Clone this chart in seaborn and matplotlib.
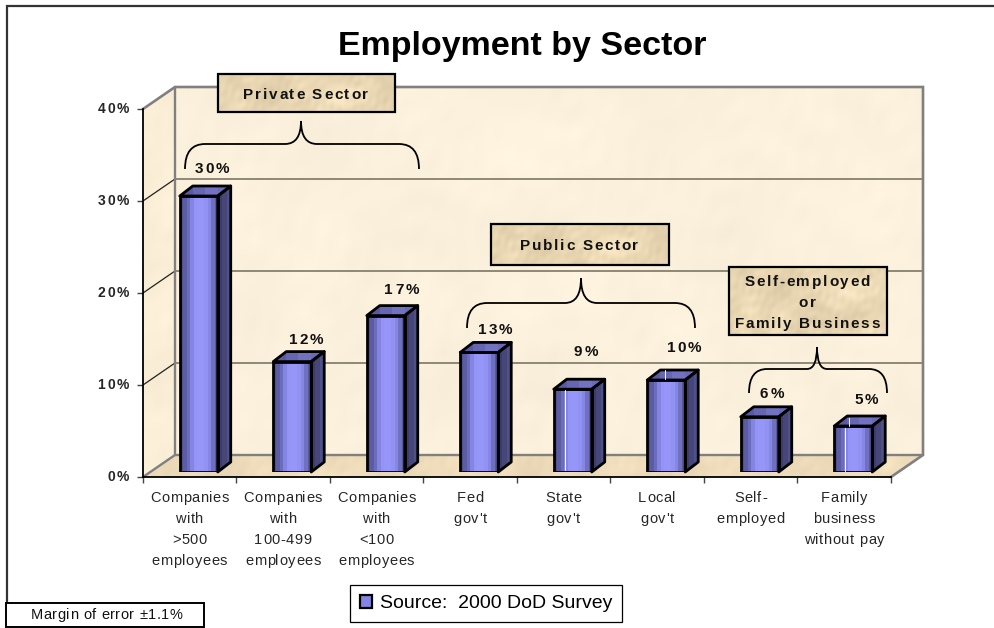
import numpy as np
import pandas as pd
import matplotlib
matplotlib.use("Agg")
import matplotlib.pyplot as plt
import matplotlib.transforms as mtransforms
from matplotlib.patches import Patch, Polygon, PathPatch, Rectangle
from matplotlib.path import Path
from matplotlib.text import Text
import seaborn as sns

# Survey results
sectors = ["Companies\nwith\n>500\nemployees", "Companies\nwith\n100-499\nemployees",
           "Companies\nwith\n<100\nemployees", "Fed\ngov't", "State\ngov't", "Local\ngov't",
           "Self-\nemployed", "Family\nbusiness\nwithout pay"]
shares = [30, 12, 17, 13, 9, 10, 6, 5]
y_ticks = [0, 10, 20, 30, 40]
groups = ["Private Sector", "Public Sector", "Self-employed\nor\nFamily Business"]

W, H = 995, 628
sns.set_theme(style="white")
plt.rcParams["font.family"] = ["Liberation Sans", "DejaVu Sans"]
fig = plt.figure(figsize=(W / 100, H / 100), dpi=100, facecolor="white")


class TrackedText(Text):
    """Text with extra spacing between letters and a fixed line height, in pixels."""
    tracking = 0.0
    line_px = 16.0

    def _lines(self, renderer):
        prop = self.get_fontproperties()
        bar = renderer.get_text_width_height_descent("|", prop, False)[0]
        out = []
        for line in self.get_text().split("\n"):
            xs = [renderer.get_text_width_height_descent(line[:i] + "|", prop, False)[0] - bar
                  + i * self.tracking for i in range(len(line) + 1)]
            out.append((line, xs))
        return out

    def _anchor(self, n, xs_end):
        x, y = self.get_transform().transform(self.get_unitless_position())
        ha = self.get_ha()
        left = x - (xs_end / 2 if ha == "center" else xs_end if ha == "right" else 0)
        top = y if self.get_va() == "top" else y + n * self.line_px / 2
        return x, left, top

    def get_window_extent(self, renderer=None, dpi=None):
        renderer = renderer or self.get_figure().canvas.get_renderer()
        lines = self._lines(renderer)
        widest = max(xs[-1] for _, xs in lines)
        _, left, top = self._anchor(len(lines), widest)
        return mtransforms.Bbox.from_extents(left, top - len(lines) * self.line_px, left + widest, top)

    def draw(self, renderer):
        if not self.get_visible() or not self.get_text():
            return
        gc = renderer.new_gc()
        gc.set_foreground(self.get_color())
        gc.set_antialiased(True)
        prop = self.get_fontproperties()
        lines = self._lines(renderer)
        for k, (line, xs) in enumerate(lines):
            _, left, top = self._anchor(len(lines), xs[-1])
            base = top - (k + 0.78) * self.line_px
            for i, ch in enumerate(line):
                if ch != " ":
                    renderer.draw_text(gc, left + xs[i], H - base, ch, prop, 0, False)
        gc.restore()
        self.stale = False


def track(label, tracking, line_px):
    label.__class__ = TrackedText
    label.tracking = tracking
    label.line_px = line_px


def mottle(w, h, freq):
    """Soft parchment-like variation in the range -1..1."""
    yy, xx = np.mgrid[0:h, 0:w]
    total = np.zeros((h, w))
    for k in range(1, 19):
        angle = k * 2.399
        f = freq * (0.45 + (k * 0.37) % 1.6)
        total += np.sin(f * (xx * np.cos(angle) + yy * np.sin(angle)) + k * 1.7)
    return total / np.abs(total).max()


def parchment(axis, extent, base, amp, freq, clip=None, zorder=1):
    l, r, t, b = extent
    tex = mottle(int(r - l), int(b - t), freq) + 0.7 * mottle(int(r - l), int(b - t), freq * 4.3)
    img = np.clip(np.array(base)[None, None, :] + amp * tex[:, :, None], 0, 255) / 255
    im = axis.imshow(img, extent=(l, r, b, t), aspect="auto", interpolation="bilinear", zorder=zorder)
    if clip is not None:
        im.set_clip_path(clip)
    return im


# Pixel-space backdrop: the walls and floor of the 3-D box
X0, X1, Y0, Y40 = 143, 891, 477, 109
DX, DY = 32, 22
per_pct = (Y0 - Y40) / 40

bg = fig.add_axes([0, 0, 1, 1], zorder=0)
bg.set_axis_off()
side = Polygon([(X0, Y0), (X0 + DX, Y0 - DY), (X0 + DX, Y40 - DY), (X0, Y40)], transform=bg.transData, fc="none", ec="none")
back = Polygon([(X0 + DX, Y0 - DY), (X1 + DX, Y0 - DY), (X1 + DX, Y40 - DY), (X0 + DX, Y40 - DY)], transform=bg.transData, fc="none", ec="none")
floor = Polygon([(X0, Y0), (X1, Y0), (X1 + DX, Y0 - DY), (X0 + DX, Y0 - DY)], transform=bg.transData, fc="none", ec="none")
for p in (side, back, floor):
    bg.add_patch(p)
parchment(bg, (X0, X0 + DX, Y40 - DY, Y0), (251, 239, 215), 3, 0.05, side)
parchment(bg, (X0 + DX, X1 + DX, Y40 - DY, Y0 - DY), (252, 241, 221), 3.5, 0.035, back)
parchment(bg, (X0, X1 + DX, Y0 - DY, Y0), (238, 220, 186), 7, 0.07, floor)
bg.set_xlim(0, W)
bg.set_ylim(H, 0)

grey = "#808080"
for v in y_ticks[1:-1]:
    y = Y0 - v * per_pct
    bg.plot([X0, X0 + DX], [y, y - DY], color="#222222", lw=0.9, zorder=3)
    bg.plot([X0 + DX, X1 + DX], [y - DY, y - DY], color="#86806f", lw=1.3, zorder=3)
bg.plot([X0, X0 + DX, X1 + DX, X1 + DX, X1], [Y40, Y40 - DY, Y40 - DY, Y0 - DY, Y0], color=grey, lw=1.9, zorder=3, solid_joinstyle="miter")
bg.plot([X0, X0 + DX, X1 + DX], [Y0, Y0 - DY, Y0 - DY], color=grey, lw=1.7, zorder=3)
bg.plot([X0 + DX, X0 + DX], [Y40 - DY, Y0 - DY], color=grey, lw=1.7, zorder=3)
# Outer frame: open on the right and at the bottom
bg.plot([7, 7, W], [603, 6, 6], color="#333333", lw=1.6, zorder=3, solid_joinstyle="miter")

# Front plane: value axis and category axis
ax = fig.add_axes([X0 / W, 1 - Y0 / H, (X1 - X0) / W, (Y0 - Y40) / H], zorder=1)
ax.patch.set_visible(False)
ax.set_xlim(-0.5, 7.5)
ax.set_ylim(0, 40)
sns.despine(ax=ax)
for s in ("left", "bottom"):
    ax.spines[s].set_color("black")
    ax.spines[s].set_linewidth(1.3)
ax.set_yticks(y_ticks, [f"{v}%" for v in y_ticks])
ax.set_xticks(np.arange(9) - 0.5, [""] * 9)
ax.set_xticks(np.arange(8), sectors, minor=True)
ax.tick_params(axis="y", left=True, length=4.3, width=1, color="#444444", pad=4.2, labelsize=10)
ax.tick_params(axis="x", which="major", bottom=True, length=4, width=1, color="#444444")
ax.tick_params(axis="x", which="minor", bottom=False, length=0, pad=6.5, labelsize=10.5)
for t in ax.yaxis.get_major_ticks():
    t.label1.set_fontweight("bold")
    track(t.label1, 2.0, 14)
for t in ax.xaxis.get_minor_ticks():
    track(t.label1, 0.6, 21)

# Bars sit a little behind the front plane
ax_bars = fig.add_axes([(X0 + 9) / W, 1 - (Y0 - 5) / H, (X1 - X0) / W, (Y0 - Y40) / H], zorder=2)
ax_bars.patch.set_visible(False)
df = pd.DataFrame({"sector": sectors, "share": shares})
sns.barplot(data=df, x="sector", y="share", color="#9494F5", width=0.406, saturation=1,
            edgecolor="black", linewidth=2.0, ax=ax_bars)
ax_bars.set_xlim(-0.5, 7.5)
ax_bars.set_ylim(0, 40)
ax_bars.set_axis_off()

front_bands = ["#50508f", "#5c5ca4", "#6c6cbc", "#8484e2", "#9494f6", "#9696f8", "#9696f8", "#9292f2", "#8686e4", "#7070c0", "#58589c"]
side_bands = ["#3c3c6c", "#464678", "#50508a"]
top_bands = ["#5a5aa4", "#6666b2", "#7272c0", "#6a6ab6"]
to_rgb = lambda cols: np.array([[matplotlib.colors.to_rgb(c) for c in cols]])
depth_x, depth_y = 13 / ((X1 - X0) / 8), 10 / per_pct

for bar in ax_bars.patches:
    x, w, h = bar.get_x(), bar.get_width(), bar.get_height()
    bar.set_facecolor("none")
    bar.set_zorder(6)
    im = ax_bars.imshow(to_rgb(front_bands), extent=(x, x + w, 0, h), aspect="auto", interpolation="nearest", zorder=5)
    im.set_clip_path(bar)
    right = Polygon([(x + w, 0), (x + w + depth_x, depth_y), (x + w + depth_x, h + depth_y), (x + w, h)],
                    transform=ax_bars.transData, fc="none", ec="black", lw=2.0, zorder=6, clip_on=False, joinstyle="round")
    lid = Polygon([(x, h), (x + depth_x, h + depth_y), (x + w + depth_x, h + depth_y), (x + w, h)],
                  transform=ax_bars.transData, fc="none", ec="black", lw=2.0, zorder=6, clip_on=False, joinstyle="round")
    ax_bars.add_patch(right)
    ax_bars.add_patch(lid)
    im = ax_bars.imshow(to_rgb(side_bands), extent=(x + w, x + w + depth_x, 0, h + depth_y), aspect="auto", interpolation="nearest", zorder=5)
    im.set_clip_path(right)
    im = ax_bars.imshow(to_rgb(top_bands), extent=(x, x + w + depth_x, h, h + depth_y), aspect="auto", interpolation="nearest", zorder=5)
    im.set_clip_path(lid)
ax_bars.set_xlim(-0.5, 7.5)
ax_bars.set_ylim(0, 40)

# Value labels, nudged off each bar in pixels
label_nudges = [(14, 27), (15, 22), (17, 26), (17, 22), (14, 37), (19, 32), (13, 23), (14, 26)]
for i, (v, (dx, dy)) in enumerate(zip(shares, label_nudges)):
    tr = mtransforms.offset_copy(ax_bars.transData, fig, x=dx, y=dy, units="dots")
    t = TrackedText(i, v, f"{v}%", transform=tr, ha="center", va="center", fontsize=11,
                    fontweight="bold", color="#111111", clip_on=False, zorder=8)
    t.tracking, t.line_px = 2.2, 14
    ax_bars.add_artist(t)

# Annotation layer in pixel coordinates
top = fig.add_axes([0, 0, 1, 1], zorder=3)
top.set_axis_off()
top.patch.set_visible(False)

group_boxes = [(218, 395, 74, 112), (491, 669, 224, 265), (729, 887, 267, 335)]
for name, (l, r, t_, b) in zip(groups, group_boxes):
    parchment(top, (l, r, t_, b), (232, 215, 178), 14, 0.10, zorder=4)
    top.add_patch(Rectangle((l, t_), r - l, b - t_, fc="none", ec="black", lw=1.6, zorder=5))
    label = TrackedText((l + r) / 2, (t_ + b) / 2, name, transform=top.transData, ha="center", va="center",
                        fontsize=11, fontweight="bold", color="#111111", zorder=6)
    label.tracking, label.line_px = 1.7, 21
    top.add_artist(label)


def brace(x0, x1, tip_x, y_end, y_bar, y_tip, r=20, r2=16):
    verts = [(x0, y_end), (x0, y_bar), (x0 + r, y_bar), (tip_x - r2, y_bar), (tip_x, y_bar), (tip_x, y_tip),
             (tip_x, y_bar), (tip_x + r2, y_bar), (x1 - r, y_bar), (x1, y_bar), (x1, y_end)]
    codes = [Path.MOVETO, Path.CURVE3, Path.CURVE3, Path.LINETO, Path.CURVE3, Path.CURVE3,
             Path.CURVE3, Path.CURVE3, Path.LINETO, Path.CURVE3, Path.CURVE3]
    top.add_patch(PathPatch(Path(verts, codes), fc="none", ec="black", lw=1.3, zorder=5))


brace(185, 419, 301, 169, 144, 121)
brace(467, 695, 581, 328, 303, 278)
brace(749, 887, 817, 393, 369, 347, r=18, r2=10)

# Thin white seams running down a few of the columns
for sx, sy0, sy1 in [(565, 390, 470), (845, 428, 471), (849, 418, 426), (665, 370, 379)]:
    top.plot([sx, sx], [sy0, sy1], color="white", lw=0.7, zorder=5)

# Margin-of-error note
top.add_patch(Rectangle((6, 603), 198, 24, fc="white", ec="black", lw=1.4, zorder=5))
note = TrackedText(107, 615, "Margin of error ±1.1%", transform=top.transData, ha="center", va="center",
                   fontsize=10.5, color="#111111", zorder=6)
note.tracking, note.line_px = 0.5, 15
top.add_artist(note)

top.set_xlim(0, W)
top.set_ylim(H, 0)

fig.suptitle("Employment by Sector", x=522 / W, y=1 - 43 / H, va="center_baseline", fontsize=24.5, fontweight="bold", color="black")

legend = fig.legend(handles=[Patch(facecolor="#8484E4", edgecolor="black", linewidth=1.6, label="Source:  2000 DoD Survey")],
                    loc="center", bbox_to_anchor=(486 / W, 1 - 603.5 / H), fontsize=14, fancybox=False,
                    framealpha=1, edgecolor="black", borderpad=0.5, handlelength=0.65, handleheight=0.65,
                    handletextpad=0.4, borderaxespad=0, labelcolor="black")
legend.get_frame().set_linewidth(0.9)
legend.set_zorder(5)

fig.savefig("out.png", dpi=100)
